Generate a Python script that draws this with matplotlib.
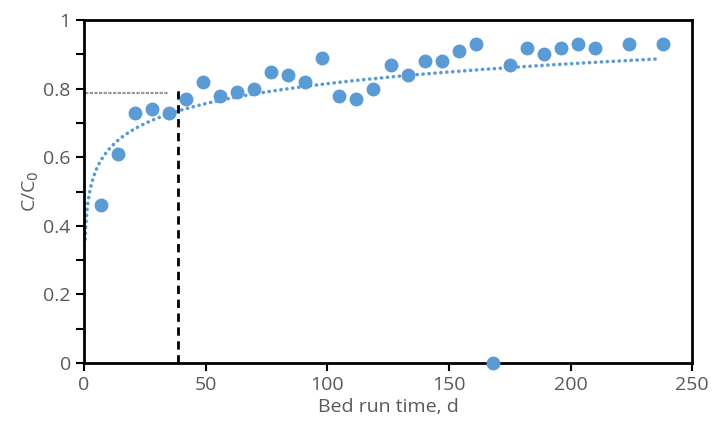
import numpy as np
import matplotlib
matplotlib.use("Agg")
import matplotlib.pyplot as plt
from matplotlib.ticker import MultipleLocator

# measured breakthrough data
days = [7, 14, 21, 28, 35, 42, 49, 56, 63, 70, 77, 84, 91, 98, 105, 112,
        119, 126, 133, 140, 147, 154, 161, 168, 175, 182, 189, 196, 203,
        210, 224, 238]
c_c0 = [0.46, 0.61, 0.73, 0.74, 0.73, 0.77, 0.82, 0.78, 0.79, 0.80, 0.85,
        0.84, 0.82, 0.89, 0.78, 0.77, 0.80, 0.87, 0.84, 0.88, 0.88, 0.91,
        0.93, 0.00, 0.87, 0.92, 0.90, 0.92, 0.93, 0.92, 0.93, 0.93]

# log trendline: y = a*ln(x) + b
trend_a = 0.084
trend_b = 0.428
trend_range = (0.45, 236)

# marker lines
cut_x = 38.5
cut_y = 0.80
ref_y = 0.787
ref_x = (0.5, 35)

grey = "#595959"
blue = "#5B9BD5"
plt.rcParams["font.family"] = ["Open Sans", "DejaVu Sans"]

fig = plt.figure(figsize=(7.18, 4.21), dpi=100)
ax = fig.add_axes([0.117, 0.138, 0.847, 0.814])

tx = np.linspace(trend_range[0], trend_range[1], 600)
ax.plot(tx, trend_a * np.log(tx) + trend_b, linestyle=(0, (0.05, 1.6)),
        color=blue, lw=2.6, dash_capstyle="round")

ax.plot([cut_x, cut_x], [0, cut_y], color="black", lw=2, linestyle=(0, (3, 2)))
ax.plot(ref_x, [ref_y, ref_y], color="#9a9a9a", lw=1.6, linestyle=(0, (1.5, 0.6)))

ax.plot(days, c_c0, "o", color=blue, ms=9, clip_on=False, zorder=5)

ax.set_xlim(0, 250)
ax.set_ylim(0, 1)
ax.xaxis.set_major_locator(MultipleLocator(50))
ax.yaxis.set_minor_locator(MultipleLocator(0.1))
ax.set_yticks([0, 0.2, 0.4, 0.6, 0.8, 1])
ax.set_yticklabels(["0", "0.2", "0.4", "0.6", "0.8", "1"])

for s in ax.spines.values():
    s.set_linewidth(2)
    s.set_color("black")
ax.tick_params(axis="both", which="both", direction="out", length=6,
               width=1.5, colors="black", labelcolor=grey, labelsize=14)

ax.set_xlabel("Bed run time, d", color=grey, fontsize=14, labelpad=3)
ax.set_ylabel("C/C$_0$", color=grey, fontsize=14, labelpad=2)

fig.savefig("out.png", dpi=100)
